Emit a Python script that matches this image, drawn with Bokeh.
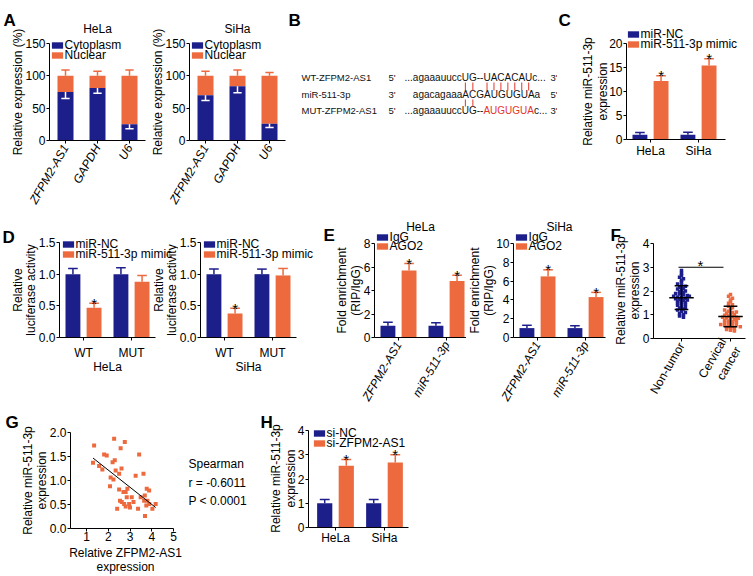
import numpy as np
from bokeh.plotting import figure
from bokeh.models import Range1d, FixedTicker, Legend, LegendItem, NumeralTickFormatter
from bokeh.layouts import row, column
from bokeh.embed import file_html
from bokeh.resources import INLINE
from bokeh.core.properties import value

FONT = "Liberation Sans"
BLUE = "#1C1E8A"
ORANGE = "#EC6A3E"
RED = "#E3342B"
INK = "#111111"
HALF_PI = np.pi / 2

# ---------------- data ----------------
# A: subcellular localisation (%)
a_genes = ["ZFPM2-AS1", "GAPDH", "U6"]
a_total = [100, 100, 100]
a_hela_cyto = [75, 81, 25]
a_hela_cyto_err = [10, 8, 7]
a_hela_nuc_err = [9, 7, 9]
a_siha_cyto = [70, 84, 26]
a_siha_cyto_err = [8, 10, 6]
a_siha_nuc_err = [7, 9, 5]

# B: binding-site diagram
b_names = ["WT-ZFPM2-AS1", "miR-511-3p", "MUT-ZFPM2-AS1"]
b_end5 = ["5'", "3'", "5'"]
b_end3 = ["3'", "5'", "3'"]
b_wt = "...agaaauuccUG--UACACAUc..."
b_mir = "agacagaaaACGAUGUGUAa"
b_mut_pre = "...agaaauuccUG--"
b_mut_red = "AUGUGUA"
b_mut_post = "c..."
b_wt_pairs = [12, 13, 16, 17, 18, 19, 20, 21, 22]
b_mut_pairs = [12, 13]

# C: miR-511-3p expression after mimic
c_cells = ["HeLa", "SiHa"]
c_nc = [1.0, 1.0]
c_nc_err = [0.45, 0.5]
c_mimic = [12.2, 15.4]
c_mimic_err = [1.1, 1.4]

# D: luciferase activity
d_groups = ["WT", "MUT"]
d_hela_nc = [1.0, 1.0]
d_hela_nc_err = [0.09, 0.1]
d_hela_mimic = [0.47, 0.88]
d_hela_mimic_err = [0.07, 0.1]
d_siha_nc = [1.0, 1.0]
d_siha_nc_err = [0.08, 0.08]
d_siha_mimic = [0.38, 0.98]
d_siha_mimic_err = [0.08, 0.11]
d_star = [True, False]

# E: RIP
e_targets = ["ZFPM2-AS1", "miR-511-3p"]
e_hela_igg = [1.0, 1.0]
e_hela_igg_err = [0.3, 0.25]
e_hela_ago2 = [5.7, 4.8]
e_hela_ago2_err = [0.6, 0.5]
e_siha_igg = [1.0, 1.0]
e_siha_igg_err = [0.3, 0.25]
e_siha_ago2 = [6.5, 4.3]
e_siha_ago2_err = [0.7, 0.5]

# F: tissue expression
f_groups = ["Non-tumor", "Cervical\ncancer"]
f_nontumor = [2.86, 2.75, 2.65, 2.58, 2.52, 2.45, 2.38, 2.30, 2.25, 2.20, 2.16, 2.12,
              2.08, 2.04, 2.00, 1.97, 1.94, 1.90, 1.87, 1.84, 1.81, 1.78, 1.75, 1.72,
              1.70, 1.67, 1.64, 1.61, 1.58, 1.55, 1.52, 1.49, 1.46, 1.43, 1.40, 1.36,
              1.32, 1.28, 1.24, 1.20, 1.15, 1.10, 1.05, 1.00, 0.95, 0.90, 1.78, 1.62]
f_cancer = [1.85, 1.78, 1.70, 1.62, 1.55, 1.48, 1.42, 1.36, 1.30, 1.25, 1.20, 1.15,
            1.10, 1.06, 1.02, 0.98, 0.95, 0.92, 0.89, 0.86, 0.83, 0.80, 0.77, 0.74,
            0.71, 0.68, 0.65, 0.62, 0.59, 0.56, 0.53, 0.50, 0.47, 0.44, 0.41, 0.38,
            0.35, 0.32, 0.90, 0.85, 1.00, 0.70, 1.12, 0.60, 0.78, 0.50]
f_mean = [1.72, 0.93]
f_sd = [0.50, 0.43]
f_sig_y = 3.0

# G: correlation
g_x = [1.35, 1.30, 1.58, 1.73, 1.81, 1.93, 2.27, 2.76, 2.57, 2.30, 2.11, 2.24, 2.34, 2.50,
       2.61, 2.08, 2.50, 2.80, 2.70, 2.88, 2.54, 2.85, 3.08, 2.96, 2.73, 2.80, 3.00, 2.41,
       3.26, 3.42, 3.62, 3.16, 3.37, 3.49, 3.68, 3.77, 3.88, 3.65, 3.80, 3.88, 3.69, 4.03,
       4.18, 3.75, 2.62, 2.20]
g_y = [1.73, 1.37, 1.30, 1.23, 1.54, 1.52, 1.87, 1.80, 1.67, 1.42, 1.06, 1.02, 1.21, 1.14,
       1.25, 0.88, 0.81, 0.76, 0.76, 0.83, 0.58, 0.65, 0.65, 0.51, 0.51, 0.46, 0.44, 0.41,
       1.10, 1.54, 1.14, 0.55, 0.41, 0.65, 0.69, 0.83, 0.79, 0.58, 0.58, 0.51, 0.26, 0.41,
       0.51, 0.48, 0.55, 1.38]
g_stats = ["Spearman", "r = -0.6011", "P < 0.0001"]

# H: knockdown
h_cells = ["HeLa", "SiHa"]
h_nc = [1.0, 1.0]
h_nc_err = [0.15, 0.15]
h_si = [2.55, 2.68]
h_si_err = [0.25, 0.32]


# ---------------- helpers ----------------
class Panel:
    """A figure whose frame fills its canvas; (x0, y0) is its top-left corner on the page.
    xmap/ymap = (page pixel, data value, pixels per data unit)."""

    def __init__(self, x0, y0, w, h, xmap, ymap):
        self.x0, self.y0, self.w, self.h = x0, y0, w, h
        self.xm, self.ym = xmap, ymap
        p = figure(width=w, height=h,
                   x_range=Range1d(self.X(x0), self.X(x0 + w)),
                   y_range=Range1d(self.Y(y0 + h), self.Y(y0)),
                   title=None, output_backend="svg", toolbar_location=None, min_border=0)
        p.outline_line_color = None
        p.grid.visible = False
        for ax in p.axis:
            ax.axis_line_color = "black"
            ax.axis_line_width = 1
            ax.major_tick_line_color = "black"
            ax.major_tick_out = 3
            ax.major_tick_in = 0
            ax.minor_tick_line_color = None
            ax.major_label_text_font = FONT
            ax.major_label_text_font_size = "12px"
            ax.major_label_text_color = "black"
            ax.major_label_standoff = 1
        self.p = p

    def X(self, g):
        gx, xv, ppx = self.xm
        return xv + (g - gx) / ppx

    def Y(self, g):
        gy, yv, ppy = self.ym
        return yv - (g - gy) / ppy

    def axes(self, ax_g, right_g, ymax, yticks, yfmt=None):
        ya, xa = self.p.yaxis[0], self.p.xaxis[0]
        ya.fixed_location = self.X(ax_g)
        ya.bounds = (0, ymax)
        ya.ticker = FixedTicker(ticks=yticks)
        if yfmt:
            ya.formatter = NumeralTickFormatter(format=yfmt)
        xa.fixed_location = 0
        xa.bounds = (self.X(ax_g), self.X(right_g))

    def cats(self, labels, angle=None, italic=False, standoff=1):
        xa = self.p.xaxis[0]
        xa.ticker = FixedTicker(ticks=list(range(len(labels))))
        xa.major_label_overrides = {i: t for i, t in enumerate(labels)}
        xa.major_label_standoff = standoff
        if angle:
            xa.major_label_orientation = angle
        if italic:
            xa.major_label_text_font_style = "italic"

    def text(self, gx, gy, s, size="12px", align="left", baseline="middle",
             angle=0.0, color="black", style="normal"):
        self.p.text(x=[self.X(gx)], y=[self.Y(gy)], text=[s], angle=angle,
                    text_font=value(FONT), text_font_size=value(size),
                    text_align=align, text_baseline=baseline, text_color=color,
                    text_font_style=style)

    def letter(self, gx, gy, s):
        self.text(gx, gy, s, size="17px", baseline="alphabetic", style="bold")

    def ylabel(self, lines, cxs, cy):
        for s, cx in zip(lines, cxs):
            self.text(cx, cy, s, align="center", angle=HALF_PI)

    def legend(self, label, r, box_left_g, center_g):
        lg = Legend(items=[LegendItem(label=label, renderers=[r])],
                    location=(box_left_g - 1.4 - self.x0, self.y0 + self.h - center_g - 8),
                    glyph_width=14, glyph_height=8, label_height=10, label_standoff=1,
                    spacing=0, padding=0, margin=0, border_line_color=None,
                    background_fill_alpha=0, label_text_font=FONT,
                    label_text_font_size="12px", label_text_color="black")
        self.p.add_layout(lg)


def err_bars(p, xs, y0, y1, color, cap):
    p.segment(x0=xs, y0=y0, x1=xs, y1=y1, line_color=color, line_width=1.5)
    p.segment(x0=[x - cap for x in xs], y0=y1, x1=[x + cap for x in xs], y1=y1,
              line_color=color, line_width=1.5)


def stars(p, xs, ys):
    if xs:
        p.text(x=xs, y=ys, text=["*"] * len(xs), text_font=value(FONT),
               text_font_size=value("15px"), text_align="center",
               text_baseline="alphabetic", text_color="black")


def pair_bars(p, va, ea, vb, eb, ca, cb, star_b, off=0.22, width=0.31, cap=0.1):
    n = len(va)
    xa = [i - off for i in range(n)]
    xb = [i + off for i in range(n)]
    ra = p.vbar(x=xa, top=va, width=width, fill_color=ca, line_color=None)
    rb = p.vbar(x=xb, top=vb, width=width, fill_color=cb, line_color=None)
    ta = [v + e for v, e in zip(va, ea)]
    tb = [v + e for v, e in zip(vb, eb)]
    err_bars(p, xa, va, ta, ca, cap)
    err_bars(p, xb, vb, tb, cb, cap)
    stars(p, [x for x, s in zip(xb, star_b) if s], [t for t, s in zip(tb, star_b) if s])
    return ra, rb


def text_w(s, size):
    w = {'.': 278, 'a': 556, 'g': 556, 'u': 556, 'c': 500, 'U': 722, 'G': 778,
         '-': 333, 'A': 667, 'C': 722}
    return sum(w[ch] for ch in s) * size / 1000.0


# ---------------- A ----------------
def panel_a(x0, w, ax_g, c0_g, title, cyto, cyto_err, nuc_err, ylab_x):
    P = Panel(x0, 0, w, 213, (c0_g, 0, 32), (140, 0, 97 / 150))
    p = P.p
    xs = list(range(len(a_genes)))
    r_nuc = p.vbar(x=xs, bottom=cyto, top=a_total, width=0.5, fill_color=ORANGE, line_color=None)
    r_cyt = p.vbar(x=xs, bottom=0, top=cyto, width=0.5, fill_color=BLUE, line_color=None)
    err_bars(p, xs, a_total, [t + e for t, e in zip(a_total, nuc_err)], ORANGE, 0.13)
    err_bars(p, xs, cyto, [c - e for c, e in zip(cyto, cyto_err)], "white", 0.13)
    P.axes(ax_g, ax_g + 96, 150, [0, 50, 100, 150])
    P.cats(a_genes, angle=1.05, italic=True, standoff=2)
    P.ylabel(["Relative expression (%)"], [ylab_x], 91.5)
    P.text(c0_g + 32, 28, title, align="center")
    P.legend("Cytoplasm", r_cyt, ax_g + 2, 44)
    P.legend("Nuclear", r_nuc, ax_g + 2, 54)
    return P

PA1 = panel_a(0, 150, 49, 65, "HeLa", a_hela_cyto, a_hela_cyto_err, a_hela_nuc_err, 17)
PA1.letter(3, 20, "A")
PA2 = panel_a(150, 136, 189, 205, "SiHa", a_siha_cyto, a_siha_cyto_err, a_siha_nuc_err, 157)

# ---------------- B ----------------
pB = figure(width=271, height=213, x_range=Range1d(286, 557), y_range=Range1d(213, 0),
            title=None, output_backend="svg", toolbar_location=None, min_border=0,
            x_axis_type=None, y_axis_type=None)
pB.outline_line_color = None
rows_y = [77, 94, 110]
name_x, prime_x, seq_x, end_x = 301, 388, 404, 550
SEQ = 10
for xs_, txt in ((name_x, b_names), (prime_x, b_end5), (end_x, b_end3)):
    pB.text(x=[xs_] * 3, y=rows_y, text=txt, text_font=value(FONT),
            text_font_size=value("9.5px"), text_baseline="middle", text_color=INK)
mut_red_x = seq_x + text_w(b_mut_pre, SEQ)
pB.text(x=[seq_x, seq_x + text_w("...", SEQ), seq_x, mut_red_x + text_w(b_mut_red, SEQ)],
        y=[rows_y[0], rows_y[1], rows_y[2], rows_y[2]],
        text=[b_wt, b_mir, b_mut_pre, b_mut_post], text_font=value(FONT),
        text_font_size=value("10px"), text_baseline="middle", text_color=INK)
pB.text(x=[mut_red_x], y=[rows_y[2]], text=[b_mut_red], text_font=value(FONT),
        text_font_size=value("10px"), text_baseline="middle", text_color=RED)
wt_cx = [seq_x + text_w(b_wt[:i], SEQ) + text_w(b_wt[i], SEQ) / 2 for i in b_wt_pairs]
mut_cx = [seq_x + text_w(b_wt[:i], SEQ) + text_w(b_wt[i], SEQ) / 2 for i in b_mut_pairs]
pB.segment(x0=wt_cx, y0=[rows_y[0] + 5] * len(wt_cx), x1=wt_cx, y1=[rows_y[1] - 4] * len(wt_cx),
           line_color=RED, line_width=1)
pB.segment(x0=mut_cx, y0=[rows_y[1] + 5] * len(mut_cx), x1=mut_cx, y1=[rows_y[2] - 4] * len(mut_cx),
           line_color=RED, line_width=1)
pB.text(x=[288], y=[20], text=["B"], text_font=value(FONT), text_font_size=value("17px"),
        text_font_style="bold", text_baseline="alphabetic", text_color="black")

# ---------------- C ----------------
PC = Panel(557, 0, 196, 213, (650, 0, 48), (139, 0, 4.8))
rc1, rc2 = pair_bars(PC.p, c_nc, c_nc_err, c_mimic, c_mimic_err, BLUE, ORANGE, [True, True])
PC.axes(626, 725, 20, [0, 5, 10, 15, 20])
PC.cats(c_cells, standoff=1)
PC.ylabel(["Relative miR-511-3p", "expression"], [587, 602], 91)
PC.legend("miR-NC", rc1, 627, 33)
PC.legend("miR-511-3p mimic", rc2, 627, 43)
PC.letter(558, 20, "C")

# ---------------- D ----------------
D_YLAB = ["Relative", "luciferase activity"]

def panel_d(x0, w, ax_g, cell, nc, nce, mi, mie):
    P = Panel(x0, 213, w, 195, (ax_g + 24, 0, 48), (337, 0, 95 / 1.5))
    r1, r2 = pair_bars(P.p, nc, nce, mi, mie, BLUE, ORANGE, d_star)
    P.axes(ax_g, ax_g + 96, 1.5, [0, 0.5, 1.0, 1.5], yfmt="0.0")
    P.cats(d_groups, standoff=5)
    P.text(ax_g + 48, 366, cell, align="center")
    P.legend("miR-NC", r1, ax_g + 3, 243)
    P.legend("miR-511-3p mimic", r2, ax_g + 3, 253)
    return P

PD1 = panel_d(0, 178, 59, "HeLa", d_hela_nc, d_hela_nc_err, d_hela_mimic, d_hela_mimic_err)
PD1.letter(2, 237, "D")
PD1.ylabel(D_YLAB, [17, 30], 289.5)
PD1.ylabel(D_YLAB, [158, 171], 289.5)   # label of the SiHa plot, left of its axis
PD2 = panel_d(178, 140, 200, "SiHa", d_siha_nc, d_siha_nc_err, d_siha_mimic, d_siha_mimic_err)

# ---------------- E ----------------
def panel_e(x0, w, ax_g, right_g, cell, igg, igge, ago, agoe, ymax, ylab_xs):
    P = Panel(x0, 213, w, 195, (ax_g + 24, 0, 48), (337, 0, 94 / ymax))
    r1, r2 = pair_bars(P.p, igg, igge, ago, agoe, BLUE, ORANGE, [True, True])
    P.axes(ax_g, right_g, ymax, list(range(0, ymax + 1, 2)))
    P.cats(e_targets, angle=1.05, italic=True, standoff=2)
    P.text((ax_g + right_g) / 2, 226, cell, align="center")
    P.ylabel(["Fold enrichment", "(RIP/IgG)"], ylab_xs, 290)
    P.legend("IgG", r1, ax_g + 2, 236)
    P.legend("AGO2", r2, ax_g + 2, 245)
    return P

PE1 = panel_e(318, 148, 374, 466, "HeLa", e_hela_igg, e_hela_igg_err, e_hela_ago2, e_hela_ago2_err, 8, [341, 355])
PE1.letter(323, 235, "E")
PE2 = panel_e(466, 144, 513, 605, "SiHa", e_siha_igg, e_siha_igg_err, e_siha_ago2, e_siha_ago2_err, 10, [474, 488])

# ---------------- F ----------------
def swarm(vals, center, binw=0.1, step=0.08):
    v = np.asarray(vals)
    xs = np.zeros(len(v))
    bins = np.floor(v / binw).astype(int)
    for b in np.unique(bins):
        idx = np.where(bins == b)[0]
        xs[idx] = center + (np.arange(len(idx)) - (len(idx) - 1) / 2) * step
    return xs

PF = Panel(610, 213, 143, 195, (681, 0, 49), (338, 0, 23.75))
pF = PF.p
pF.scatter(swarm(f_nontumor, 0), f_nontumor, marker="square", size=3.5, fill_color=BLUE, line_color=None)
pF.scatter(swarm(f_cancer, 1), f_cancer, marker="square", size=3.5, fill_color=ORANGE, line_color=None)
fx = list(range(len(f_groups)))
pF.segment(x0=[x - 0.25 for x in fx], y0=f_mean, x1=[x + 0.25 for x in fx], y1=f_mean,
           line_color="black", line_width=1.5)
f_lo = [m - s for m, s in zip(f_mean, f_sd)]
f_hi = [m + s for m, s in zip(f_mean, f_sd)]
pF.segment(x0=fx, y0=f_lo, x1=fx, y1=f_hi, line_color="black", line_width=1.5)
pF.segment(x0=[x - 0.14 for x in fx] * 2, y0=f_lo + f_hi, x1=[x + 0.14 for x in fx] * 2,
           y1=f_lo + f_hi, line_color="black", line_width=1.5)
pF.segment(x0=[PF.X(678)], y0=[f_sig_y], x1=[PF.X(723)], y1=[f_sig_y], line_color="black", line_width=1.2)
stars(pF, [PF.X(700)], [f_sig_y + 0.08])
PF.axes(653, 745, 4, [0, 1, 2, 3, 4])
PF.cats(f_groups, angle=1.05, standoff=2)
PF.ylabel(["Relative miR-511-3p", "expression"], [620, 634], 290)
PF.letter(610, 235, "F")

# ---------------- G ----------------
PG = Panel(0, 408, 260, 168, (86, 1, 21.75), (528, 0, 48))
pG = PG.p
pG.scatter(g_x, g_y, marker="square", size=4, fill_color=ORANGE, line_color=None)
k, b = np.polyfit(g_x, g_y, 1)
lx = [min(g_x), max(g_x)]
pG.line(lx, [k * x + b for x in lx], line_color="black", line_width=1)
PG.axes(70, 173, 2, [0, 0.5, 1.0, 1.5, 2.0], yfmt="0.0")
pG.xaxis[0].ticker = FixedTicker(ticks=[1, 2, 3, 4, 5])
pG.xaxis[0].major_label_standoff = 0
PG.ylabel(["Relative miR-511-3p", "expression"], [27, 41], 480)
PG.text(125, 552, "Relative ZFPM2-AS1", align="center")
PG.text(125, 566, "expression", align="center")
for s, yy in zip(g_stats, [463, 482, 500]):
    PG.text(188, yy, s)
PG.letter(5, 422, "G")

# ---------------- H ----------------
PH = Panel(260, 408, 170, 168, (335, 0, 49), (527, 0, 97 / 4))
rh1, rh2 = pair_bars(PH.p, h_nc, h_nc_err, h_si, h_si_err, BLUE, ORANGE, [True, True])
PH.axes(308, 408, 4, [0, 1, 2, 3, 4])
PH.cats(h_cells, standoff=0)
PH.ylabel(["Relative miR-511-3p", "expression"], [275, 290], 478)
PH.legend("si-NC", rh1, 313, 432)
PH.legend("si-ZFPM2-AS1", rh2, 313, 442)
PH.letter(260, 422, "H")

layout = column(row(PA1.p, PA2.p, pB, PC.p),
                row(PD1.p, PD2.p, PE1.p, PE2.p, PF.p),
                row(PG.p, PH.p))

open("out.html", "w").write(file_html(layout, INLINE))
